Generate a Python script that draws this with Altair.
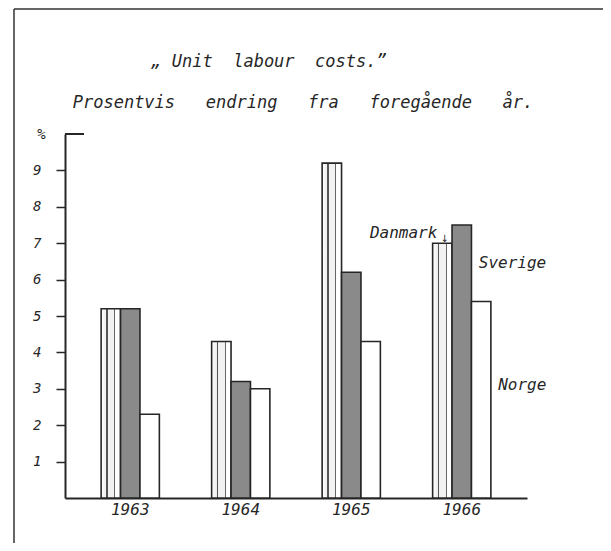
import altair as alt
import pandas as pd

years = ["1963", "1964", "1965", "1966"]
countries = ["Danmark", "Sverige", "Norge"]
danmark = [5.2, 4.3, 9.2, 7.0]
sverige = [5.2, 3.2, 6.2, 7.5]
norge = [2.3, 3.0, 4.3, 5.4]
y_ticks = [1, 2, 3, 4, 5, 6, 7, 8, 9]
title1 = "\u201e Unit\u00a0\u00a0labour\u00a0\u00a0costs.\u201d"
title2 = "Prosentvis\u00a0\u00a0\u00a0endring\u00a0\u00a0\u00a0fra\u00a0\u00a0\u00a0foregående\u00a0\u00a0\u00a0år."

rows = []
for c, vals in zip(countries, [danmark, sverige, norge]):
    for yr, v in zip(years, vals):
        rows.append({"year": yr, "country": c, "value": v})
df = pd.DataFrame(rows)
one = pd.DataFrame({"k": [0]})

FONT = "DejaVu Sans Mono"
INK = "#262626"

xenc = alt.X(
    "year:N",
    scale=alt.Scale(domain=years, paddingInner=0.473, paddingOuter=0.327),
    axis=alt.Axis(title=None, labelAngle=0, ticks=False, domainWidth=2,
                  domainColor=INK, labelFont=FONT, labelFontStyle="italic",
                  labelFontSize=16, labelColor=INK, labelPadding=3),
)
xoff = alt.XOffset("country:N",
                   scale=alt.Scale(domain=countries, paddingInner=0, paddingOuter=0))
yenc = alt.Y(
    "value:Q",
    scale=alt.Scale(domain=[0, 10], nice=False),
    axis=alt.Axis(values=y_ticks, title="%", titleAngle=0, titleX=-24, titleY=0,
                  titleAlign="center", titleBaseline="middle", titleFont=FONT,
                  titleFontStyle="italic", titleFontWeight="normal", titleFontSize=14,
                  titleColor=INK, grid=False, tickSize=9, tickWidth=1.5,
                  tickColor=INK, domainWidth=2, domainColor=INK, labelFont=FONT,
                  labelFontStyle="italic", labelFontSize=14, labelColor=INK,
                  labelPadding=15),
)

wavy = alt.Gradient(
    gradient="linear", x1=0, y1=0, x2=1, y2=0,
    stops=[
        alt.GradientStop(offset=0.0, color="#ffffff"),
        alt.GradientStop(offset=0.26, color="#eeeeee"),
        alt.GradientStop(offset=0.26, color="#555555"),
        alt.GradientStop(offset=0.33, color="#555555"),
        alt.GradientStop(offset=0.33, color="#f2f2f2"),
        alt.GradientStop(offset=0.67, color="#f2f2f2"),
        alt.GradientStop(offset=0.67, color="#666666"),
        alt.GradientStop(offset=0.74, color="#666666"),
        alt.GradientStop(offset=0.74, color="#ffffff"),
        alt.GradientStop(offset=1.0, color="#ffffff"),
    ],
)

base = alt.Chart(df)
deco = alt.Chart(one)

bars_d = base.transform_filter(alt.datum.country == "Danmark").mark_bar(
    fill=wavy, stroke=INK, strokeWidth=1.6
).encode(x=xenc, xOffset=xoff, y=yenc)
bars_s = base.transform_filter(alt.datum.country == "Sverige").mark_bar(
    fill="#8a8a8a", stroke=INK, strokeWidth=1.6
).encode(x=xenc, xOffset=xoff, y=yenc)
bars_n = base.transform_filter(alt.datum.country == "Norge").mark_bar(
    fill="#ffffff", stroke=INK, strokeWidth=1.6
).encode(x=xenc, xOffset=xoff, y=yenc)

last = base.transform_filter(alt.datum.year == "1966")
lab_style = dict(font=FONT, fontStyle="italic", fontSize=16, color=INK)
lab_d = last.transform_filter(alt.datum.country == "Danmark").mark_text(
    align="right", baseline="alphabetic", dx=-5, dy=-5, **lab_style
).encode(x=xenc, xOffset=xoff, y=yenc, text="country:N")
arrow_d = last.transform_filter(alt.datum.country == "Danmark").mark_text(
    align="center", baseline="bottom", dx=2, dy=1, font="DejaVu Sans", fontSize=10, color=INK
).encode(x=xenc, xOffset=xoff, y=yenc, text=alt.value("↓"))
lab_s = last.transform_filter(alt.datum.country == "Sverige").mark_text(
    align="left", baseline="alphabetic", dx=17, dy=43, **lab_style
).encode(x=xenc, xOffset=xoff, y=yenc, text="country:N")
lab_n = last.transform_filter(alt.datum.country == "Norge").mark_text(
    align="left", baseline="alphabetic", dx=17, dy=89, **lab_style
).encode(x=xenc, xOffset=xoff, y=yenc, text="country:N")

cap = deco.mark_rule(color=INK, strokeWidth=2).encode(
    y=alt.datum(10), x=alt.value(0), x2=alt.value(19)
)

t1 = deco.mark_text(font=FONT, fontStyle="italic", fontSize=17, color=INK,
                    align="center", baseline="alphabetic").encode(
    x=alt.value(204), y=alt.value(-67), text=alt.value(title1))
t2 = deco.mark_text(font=FONT, fontStyle="italic", fontSize=17, color=INK,
                    align="center", baseline="alphabetic").encode(
    x=alt.value(238), y=alt.value(-26), text=alt.value(title2))

frame_l = deco.mark_rule(color="#333333", strokeWidth=1.5).encode(
    x=alt.value(-51), y=alt.value(-125), y2=alt.value(420))
frame_t = deco.mark_rule(color="#333333", strokeWidth=1.5).encode(
    x=alt.value(-51), x2=alt.value(545), y=alt.value(-125))

chart = alt.layer(
    bars_d, bars_s, bars_n, lab_d, arrow_d, lab_s, lab_n, cap, t1, t2, frame_l, frame_t
).properties(
    width=462, height=364,
    autosize=alt.AutoSizeParams(type="none"),
    padding={"left": 57, "top": 126, "right": 76, "bottom": 45},
    background="white",
).configure_view(stroke=None)

chart.save("out.html", embed_options={"renderer": "svg", "actions": False})
